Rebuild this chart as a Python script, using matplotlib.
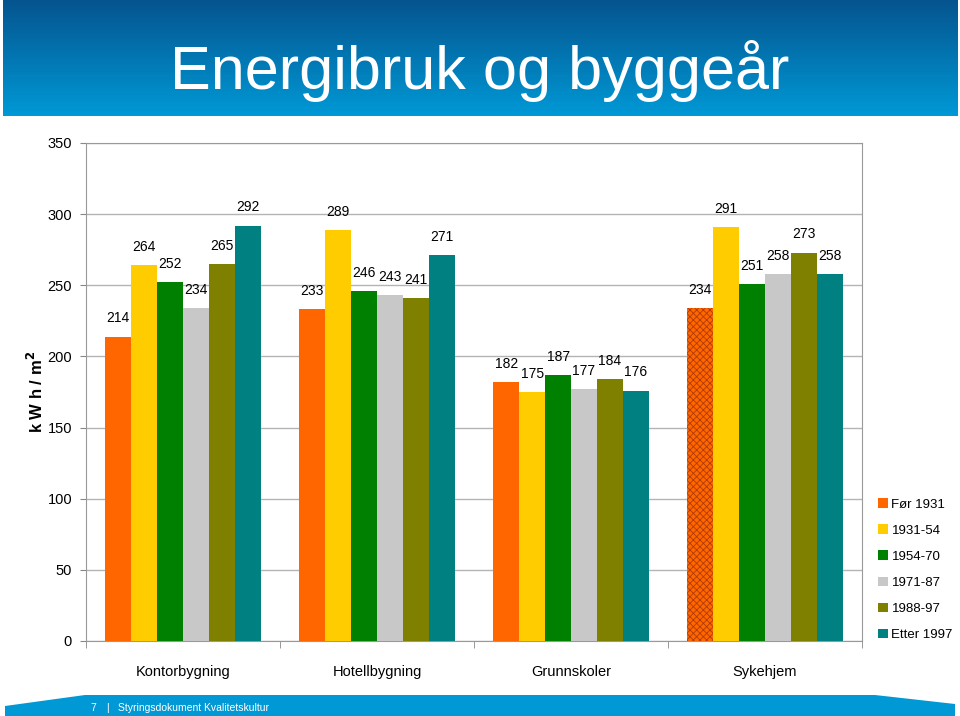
import numpy as np
import matplotlib.pyplot as plt
from matplotlib.patches import Polygon

plt.rcParams['font.family'] = ['Liberation Sans', 'DejaVu Sans']
plt.rcParams['hatch.linewidth'] = 0.6

# data
kategorier = ["Kontorbygning", "Hotellbygning", "Grunnskoler", "Sykehjem"]
perioder = ["Før 1931", "1931-54", "1954-70", "1971-87", "1988-97", "Etter 1997"]
verdier = [
    [214, 233, 182, 234],   # Før 1931
    [264, 289, 175, 291],   # 1931-54
    [252, 246, 187, 251],   # 1954-70
    [234, 243, 177, 258],   # 1971-87
    [265, 241, 184, 273],   # 1988-97
    [292, 271, 176, 258],   # Etter 1997
]
farger = ["#FF6600", "#FFCC00", "#008000", "#C8C8C8", "#808000", "#008080"]

fig = plt.figure(figsize=(9.6, 7.16), dpi=100)

# blue header with gradient
hdr = fig.add_axes([3/960, 1 - 116/716, 954/960, 116/716])
grad = np.linspace(0, 1, 256).reshape(-1, 1)
top = np.array([0.02, 0.33, 0.56])
bot = np.array([0.00, 0.60, 0.84])
img = top + (bot - top) * grad[:, :, None]
hdr.imshow(img, aspect='auto', extent=[0, 1, 0, 1])
hdr.axis('off')
fig.text(0.5, 1 - 71/716, "Energibruk og byggeår", color='white',
         fontsize=44, ha='center', va='center')

# footer band
fig.patches.append(Polygon([[5/960, 0], [5/960, 10/716], [85/960, 21/716],
                            [875/960, 21/716], [955/960, 12/716], [955/960, 0]],
                           closed=True, transform=fig.transFigure,
                           facecolor='#0099D6', edgecolor='none'))
fig.text(90/960, 8/716, "7", color='white', fontsize=7.5, va='center')
fig.text(106/960, 8/716, "|", color='white', fontsize=7.5, va='center')
fig.text(118/960, 8/716, "Styringsdokument Kvalitetskultur", color='white',
         fontsize=7.5, va='center')

ax = fig.add_axes([86/960, 1 - 641/716, 776/960, 498/716])
x = np.arange(len(kategorier))
bw = 0.8 / len(perioder)
for i, (navn, vals) in enumerate(zip(perioder, verdier)):
    pos = x - 0.4 + bw * (i + 0.5)
    bars = ax.bar(pos, vals, width=bw, color=farger[i], label=navn,
                  linewidth=0, zorder=3)
    if i == 0:
        bars[3].set_hatch('xxxxx')
        bars[3].set_edgecolor('#B03A00')
    for p, v in zip(pos, vals):
        ax.annotate(str(v), (p, v), xytext=(0, 8), textcoords='offset points',
                    ha='center', va='bottom', fontsize=10)

ax.set_xlim(-0.5, len(kategorier) - 0.5)
ax.set_ylim(0, 350)
ax.set_yticks(range(0, 351, 50))
ax.grid(axis='y', color='#B4B4B4', linewidth=1, zorder=0)
ax.set_xticks(x)
ax.set_xticklabels(kategorier, fontsize=10.5)
ax.set_xticks(np.arange(-0.5, len(kategorier)), minor=True)
ax.tick_params(axis='x', which='major', length=0, pad=17)
ax.tick_params(axis='x', which='minor', length=5, color='#888888')
ax.tick_params(axis='y', labelsize=10.5, length=4, color='#888888', pad=6)
for s in ax.spines.values():
    s.set_color('#999999')
ax.set_ylabel("k W h / m$^{\\mathbf{2}}$", fontsize=12, fontweight='bold', labelpad=1)

ax.legend(loc='upper left', bbox_to_anchor=(873/960, 1 - 493/716),
          bbox_transform=fig.transFigure, frameon=False, fontsize=9.5,
          handlelength=0.7, handleheight=0.7, handletextpad=0.3,
          labelspacing=1.05, borderaxespad=0)

fig.savefig("out.png", dpi=100)
